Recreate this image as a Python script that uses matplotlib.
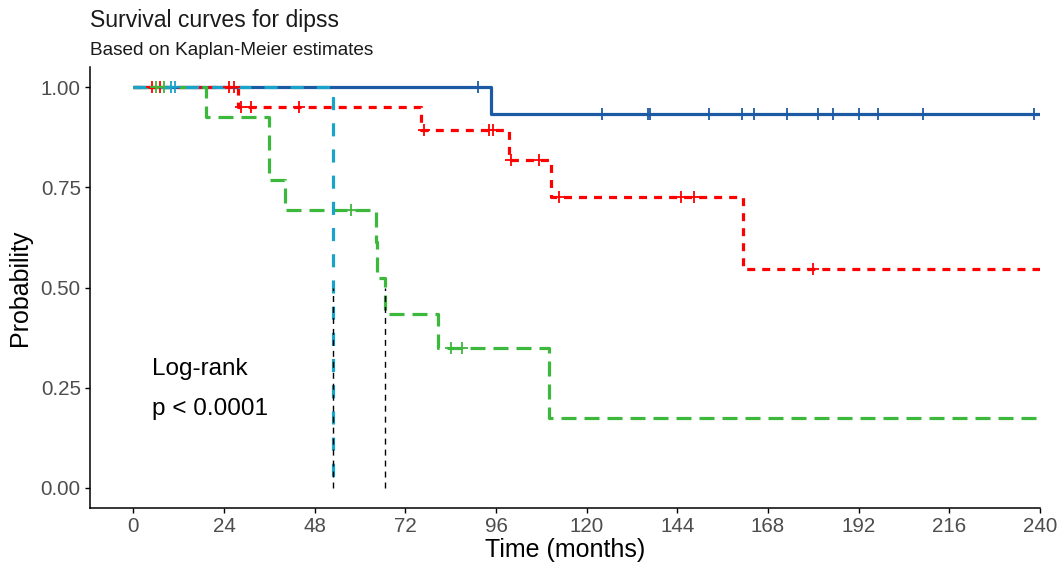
import matplotlib
matplotlib.use("Agg")
import matplotlib.pyplot as plt
import numpy as np

plt.rcParams['font.family'] = ['Liberation Sans', 'DejaVu Sans']

# ---------------- data ----------------
title = "Survival curves for dipss"
subtitle = "Based on Kaplan-Meier estimates"
x_label = "Time (months)"
y_label = "Probability"
x_ticks = [0, 24, 48, 72, 96, 120, 144, 168, 192, 216, 240]
y_ticks = [0.0, 0.25, 0.5, 0.75, 1.0]
y_tick_labels = ["0.00", "0.25", "0.50", "0.75", "1.00"]
pval_lines = ["Log-rank", "p < 0.0001"]

strata = ["Low", "Int-1", "Int-2", "High"]

low_event_t = [94.6]
low_surv = [0.933]
low_censor_t = [91.3, 124.0, 136.1, 136.8, 152.3, 161.1, 164.2, 173.1,
                181.3, 185.1, 192.1, 197.1, 209.1, 238.4]
low_end = 240

int1_event_t = [27.8, 76.1, 99.5, 110.5, 161.3]
int1_surv = [0.952, 0.894, 0.819, 0.727, 0.545]
int1_censor_t = [4.8, 7.0, 25.4, 26.7, 28.5, 31.1, 43.9, 77.0, 94.2, 95.1,
                 99.9, 107.3, 112.7, 144.9, 148.5, 179.8]
int1_end = 240

int2_event_t = [19.3, 36.0, 40.0, 64.2, 64.6, 66.7, 80.5, 110.1]
int2_surv = [0.927, 0.769, 0.694, 0.614, 0.523, 0.435, 0.348, 0.173]
int2_censor_t = [6.0, 8.0, 57.6, 84.1, 87.0]
int2_end = 240

high_event_t = [52.7]
high_surv = [0.0]
high_censor_t = [10.0, 11.0]
high_end = 52.7

# ---------------- styles ----------------
colors = ["#1C5BA3", "#FF0000", "#3CB93C", "#1AA3C8"]
dash_styles = [None, (2.5, 2.2), (4.7, 2.5), (4.1, 4.1)]
LW = 2.3

groups = [
    (low_event_t, low_surv, low_censor_t, low_end),
    (int1_event_t, int1_surv, int1_censor_t, int1_end),
    (int2_event_t, int2_surv, int2_censor_t, int2_end),
    (high_event_t, high_surv, high_censor_t, high_end),
]

W, H = 1062, 563
fig = plt.figure(figsize=(W / 100, H / 100), dpi=100)
ax = fig.add_axes([90 / W, 1 - 507.5 / H, (1040 - 90) / W, 440 / H])

medians = []
for (ev_t, sv, cen_t, end), col, ds in zip(groups, colors, dash_styles):
    xs = [0] + list(ev_t) + [end]
    ys = [1.0] + list(sv) + [sv[-1]]
    line, = ax.step(xs, ys, where='post', color=col, lw=LW, zorder=3,
                    solid_capstyle='butt')
    if ds is not None:
        line.set_dashes(ds)
    # censor marks
    ev = np.array(ev_t)
    svv = np.array([1.0] + list(sv))
    cen = np.array(cen_t)
    idx = np.searchsorted(ev, cen, side='right')
    ax.plot(cen, svv[idx], linestyle='none', marker='+', color=col,
            markersize=8, markeredgewidth=1.3, zorder=4, clip_on=False)
    # median
    below = [t for t, s in zip(ev_t, sv) if s <= 0.5]
    if below:
        medians.append(below[0])

for m in medians:
    ax.plot([m, m], [0, 0.5], color='black', lw=1.0, dashes=(4.3, 3.6),
            zorder=5)

ax.set_xlim(-11.5, 240)
ax.set_ylim(-0.05, 1.05)
ax.set_xticks(x_ticks)
ax.set_yticks(y_ticks)
ax.set_yticklabels(y_tick_labels)

for s in ['top', 'right']:
    ax.spines[s].set_visible(False)
for s in ['left', 'bottom']:
    ax.spines[s].set_linewidth(1.1)
    ax.spines[s].set_color('black')
ax.tick_params(axis='both', length=3.6, width=1.0, color='black',
               labelsize=14.8, labelcolor='#4D4D4D', pad=3)

ax.set_xlabel(x_label, fontsize=18, labelpad=2)
ax.set_ylabel(y_label, fontsize=18, labelpad=6)

ax.text(5.0, 0.281, pval_lines[0], fontsize=17.5, va='baseline', ha='left')
ax.text(5.0, 0.181, pval_lines[1], fontsize=17.5, va='baseline', ha='left')

fig.text(90 / W, 1 - 26.7 / H, title, fontsize=16.6, va='baseline',
         ha='left', color='#1A1A1A')
fig.text(90 / W, 1 - 55 / H, subtitle, fontsize=13.7, va='baseline',
         ha='left', color='#1A1A1A')

fig.savefig("out.png", dpi=100)
